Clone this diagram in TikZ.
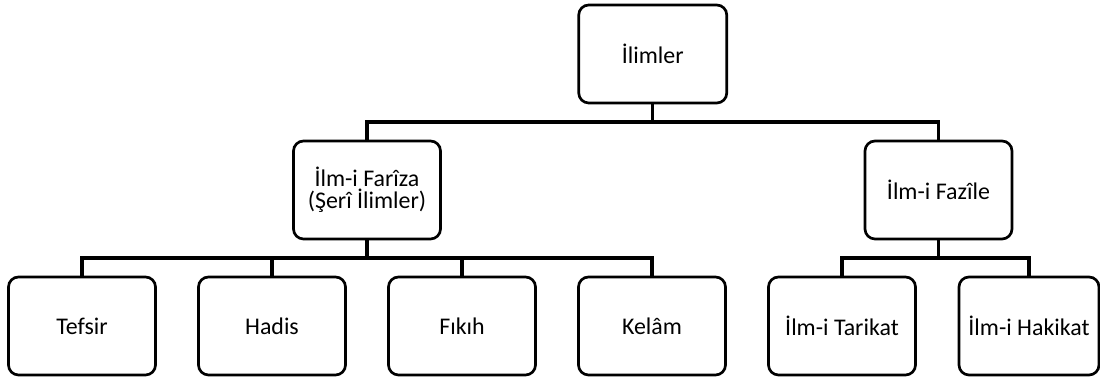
\documentclass[tikz,border=0pt]{standalone}
\usepackage{fontspec}
\setmainfont{Carlito}
\usetikzlibrary{positioning,calc}

\tikzset{
  kutu/.style={draw,line width=1.9pt,rounded corners=0.25cm,
    minimum width=3.675cm,minimum height=2.45cm,align=center,
    font=\fontsize{17}{15.6}\selectfont},
  dal/.style={to path={(\tikztostart) |- ($(\tikztostart)!0.5!(\tikztotarget)$) -| (\tikztotarget)}}
}

\begin{document}
\begin{tikzpicture}[node distance=4.75cm,on grid]
   \useasboundingbox (-2.05,-1.3) rectangle (25.45,8.15);
   % bottom row
   \node [kutu] (tefsir) {Tefsir};
   \node [kutu] (hadis) [right=of tefsir] {Hadis};
   \node [kutu] (fikih) [right=of hadis] {Fıkıh};
   \node [kutu] (kelam) [right=of fikih] {Kelâm};
   \node [kutu] (tarikat) [right=of kelam] {İlm-i Tarikat};
   \node [kutu,minimum width=3.5cm] (hakikat) [right=4.675cm of tarikat] {İlm-i Hakikat};
   % middle row
   \node [kutu] (fariza) at ($(tefsir)!0.5!(kelam)+(0,3.4)$) {İlm-i Farîza\\(Şerî İlimler)};
   \node [kutu] (fazile) at ($(tarikat)!0.5!(hakikat)+(0.075,3.4)$) {İlm-i Fazîle};
   % root
   \node [kutu,minimum width=3.7cm] (ilimler) at ($(fariza)!0.5!(fazile)+(0,3.4)$) {İlimler};
   \draw [line width=2.2pt]
    (ilimler.south) to [dal] (fariza.north)
    (ilimler.south) to [dal] (fazile.north)
    (fariza.south) to [dal] (tefsir.north)
    (fariza.south) to [dal] (hadis.north)
    (fariza.south) to [dal] (fikih.north)
    (fariza.south) to [dal] (kelam.north)
    (fazile.south) to [dal] (tarikat.north)
    (fazile.south) to [dal] (hakikat.north);
\end{tikzpicture}
\end{document}
